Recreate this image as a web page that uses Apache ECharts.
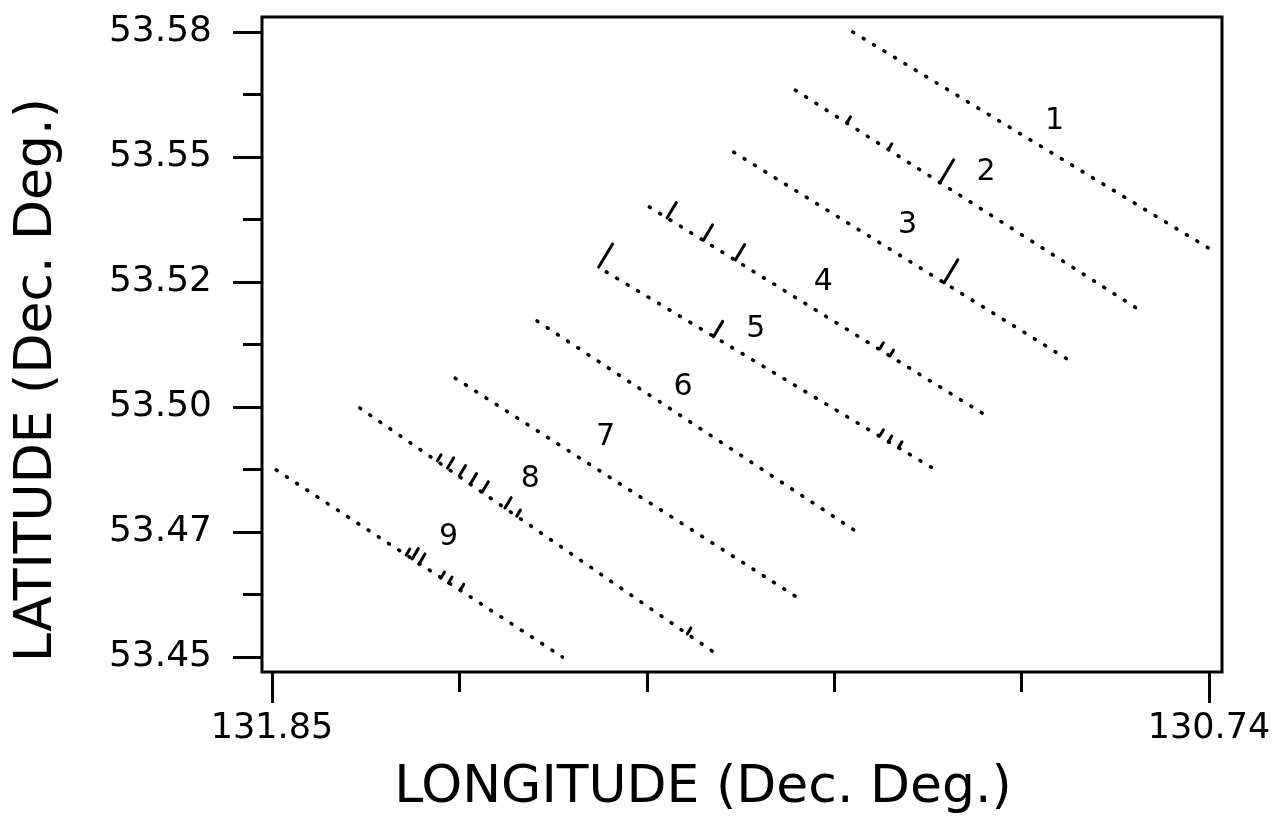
<!DOCTYPE html>
<html>
<head>
<meta charset="utf-8">
<script src="https://cdn.jsdelivr.net/npm/echarts@6/dist/echarts.min.js"></script>
<style>
html, body { margin: 0; padding: 0; background: #fff; }
#chart { width: 1277px; height: 820px; }
</style>
</head>
<body>
<div id="chart"></div>
<script>
// survey lines, start and end as [lon, lat]
const trackNames = ['1', '2', '3', '4', '5', '6', '7', '8', '9'];
const trackStart = [
    [131.162, 53.5800], [131.230, 53.5679], [131.303, 53.5550],
    [131.403, 53.5436], [131.454, 53.5301], [131.536, 53.5199],
    [131.633, 53.5080], [131.746, 53.5018], [131.845, 53.4889]
];
const trackEnd = [
    [130.741, 53.5351], [130.819, 53.5218], [130.901, 53.5112],
    [131.001, 53.4999], [131.060, 53.4885], [131.150, 53.4752],
    [131.227, 53.4623], [131.320, 53.4502], [131.506, 53.4500]
];
const labelPos = [
    [130.923, 53.5615], [131.004, 53.5509], [131.097, 53.5399],
    [131.197, 53.5280], [131.277, 53.5182], [131.363, 53.5062],
    [131.455, 53.4958], [131.544, 53.4870], [131.641, 53.4750]
];

// slash marks along the lines
const bigMarks = [[131.059, 53.5486], [131.054, 53.5278], [131.463, 53.5311]];
const midMarks = [[131.382, 53.5413], [131.339, 53.5367], [131.301, 53.5326], [131.327, 53.5166]];
const shortMarks = [
    [131.642, 53.4893], [131.628, 53.4877], [131.615, 53.4860], [131.601, 53.4843],
    [131.574, 53.4810], [131.684, 53.4704], [131.676, 53.4693]
];
const tinyMarks = [
    [131.169, 53.5611], [131.120, 53.5555], [131.130, 53.5141], [131.118, 53.5126],
    [131.130, 53.4960], [131.120, 53.4947], [131.108, 53.4935], [131.654, 53.4908],
    [131.560, 53.4793], [131.358, 53.4548], [131.691, 53.4712], [131.650, 53.4664],
    [131.641, 53.4654], [131.627, 53.4639]
];

const xTickValues = [131.85, 130.74];
const xTickLabels = ['131.85', '130.74'];
const yTickValues = [53.45, 53.476, 53.502, 53.528, 53.554, 53.58];
const yTickLabels = ['53.45', '53.47', '53.50', '53.52', '53.55', '53.58'];

const FONT = '"DejaVu Sans", sans-serif';
const SIN = Math.sin(31 * Math.PI / 180);
const COS = Math.cos(31 * Math.PI / 180);

function pickLabel(values, labels, v) {
    let best = 0;
    values.forEach(function (t, i) {
        if (Math.abs(t - v) < Math.abs(values[best] - v)) best = i;
    });
    return Math.abs(values[best] - v) < 1e-3 ? labels[best] : '';
}

function markSeries(data, len) {
    return {
        type: 'custom',
        xAxisIndex: 0,
        yAxisIndex: 0,
        silent: true,
        data: data,
        renderItem: function (params, api) {
            const p = api.coord([api.value(0), api.value(1)]);
            return {
                type: 'line',
                shape: { x1: p[0], y1: p[1], x2: p[0] + len * SIN, y2: p[1] - len * COS },
                style: { stroke: '#000', lineWidth: 3, lineCap: 'round' }
            };
        }
    };
}

const series = [];
trackNames.forEach(function (name, i) {
    series.push({
        type: 'line',
        xAxisIndex: 0,
        yAxisIndex: 0,
        data: [trackStart[i], trackEnd[i]],
        symbol: 'none',
        clip: false,
        silent: true,
        lineStyle: { color: '#000', width: 3.6, type: [1, 11.2], cap: 'round' }
    });
});
series.push(markSeries(bigMarks, 27));
series.push(markSeries(midMarks, 18));
series.push(markSeries(shortMarks, 12));
series.push(markSeries(tinyMarks, 7));
series.push({
    type: 'scatter',
    xAxisIndex: 0,
    yAxisIndex: 0,
    silent: true,
    symbolSize: 0,
    itemStyle: { color: '#000' },
    data: labelPos.map(function (p, i) { return { name: trackNames[i], value: p }; }),
    label: {
        show: true,
        position: 'inside',
        formatter: '{b}',
        color: '#000',
        opacity: 1,
        fontFamily: FONT,
        fontSize: 30
    }
});

const chart = echarts.init(document.getElementById('chart'));
chart.setOption({
    animation: false,
    backgroundColor: '#fff',
    grid: [
        { left: 272, right: 68, top: 32, bottom: 163 },
        { left: 262, right: 55, top: 17, bottom: 148, show: true, borderColor: '#000', borderWidth: 3, backgroundColor: 'transparent' }
    ],
    xAxis: [
        {
            gridIndex: 0, type: 'value', position: 'bottom', inverse: true,
            min: 130.74, max: 131.85, interval: 1.11, offset: 15,
            axisLine: { show: false },
            axisTick: { length: 31, lineStyle: { color: '#000', width: 3 } },
            splitLine: { show: false },
            axisLabel: {
                margin: 39, color: '#000', fontFamily: FONT, fontSize: 35,
                formatter: function (v) { return pickLabel(xTickValues, xTickLabels, v); }
            }
        },
        {
            gridIndex: 0, type: 'value', position: 'bottom', inverse: true,
            min: 130.74, max: 131.85, interval: 0.222, offset: 15,
            axisLine: { show: false },
            axisTick: { length: 20, lineStyle: { color: '#000', width: 3 } },
            splitLine: { show: false },
            axisLabel: { show: false }
        },
        { gridIndex: 1, type: 'value', show: false }
    ],
    yAxis: [
        {
            gridIndex: 0, type: 'value', min: 53.45, max: 53.58, interval: 0.026, offset: 10,
            axisLine: { show: false },
            axisTick: { length: 29, lineStyle: { color: '#000', width: 3 } },
            minorTick: { show: true, splitNumber: 2, length: 19, lineStyle: { color: '#000', width: 3 } },
            splitLine: { show: false },
            axisLabel: {
                margin: 50, color: '#000', fontFamily: FONT, fontSize: 36,
                formatter: function (v) { return pickLabel(yTickValues, yTickLabels, v); }
            }
        },
        { gridIndex: 1, type: 'value', show: false }
    ],
    graphic: [
        {
            type: 'text', x: 37, y: 380, rotation: Math.PI / 2,
            style: {
                text: 'LATITUDE (Dec. Deg.)', fill: '#000', font: '52px ' + FONT,
                align: 'center', verticalAlign: 'middle'
            }
        },
        {
            type: 'text', x: 703, y: 788,
            style: {
                text: 'LONGITUDE (Dec. Deg.)', fill: '#000', font: '52px ' + FONT,
                align: 'center', verticalAlign: 'middle'
            }
        }
    ],
    series: series
});
</script>
</body>
</html>
